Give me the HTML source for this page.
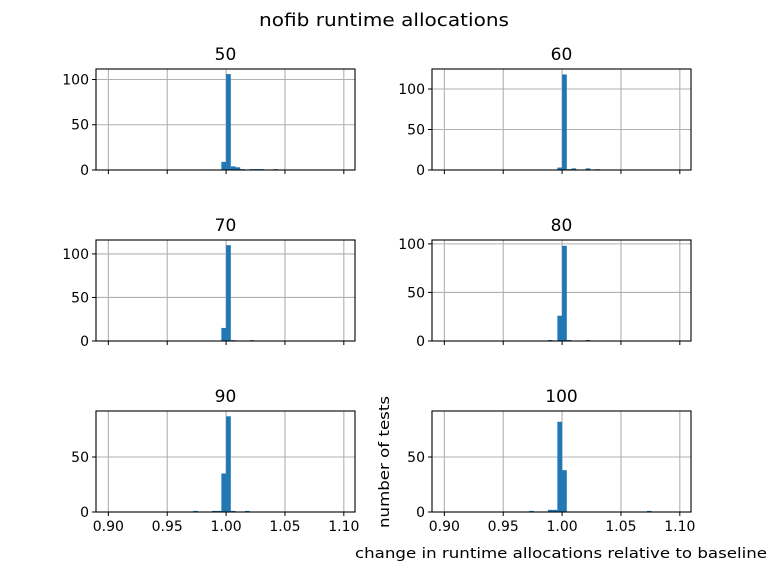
<!DOCTYPE html>
<html><head><meta charset="utf-8"><style>
body{margin:0;background:#fff;}
svg{display:block;font-family:"DejaVu Sans","Liberation Sans",sans-serif;}
</style></head><body>
<svg id="fig" width="768" height="576" xmlns="http://www.w3.org/2000/svg">
<text x="259" y="26" font-size="17.5" textLength="250" lengthAdjust="spacingAndGlyphs">nofib runtime allocations</text>
<text x="355" y="558" font-size="14.5" textLength="412" lengthAdjust="spacingAndGlyphs">change in runtime allocations relative to baseline</text>
<text transform="translate(389,528) rotate(-90)" font-size="14.5" textLength="132" lengthAdjust="spacingAndGlyphs">number of tests</text>
</svg>
<script>
const panelTitles = ["50","60","70","80","90","100"];
const binWidth = 0.004;
const bins50 = [0.996,1.0,1.004,1.008,1.012,1.020,1.024,1.028,1.040];
const vals50 = [9,106,4,3,1,1,1,1,1];
const bins60 = [0.996,1.0,1.004,1.008,1.020,1.028];
const vals60 = [3,118,1,2,2,1];
const bins70 = [0.996,1.0,1.004,1.020];
const vals70 = [15,110,1,1];
const bins80 = [0.988,0.996,1.0,1.004,1.020];
const vals80 = [1,26,98,1,1];
const bins90 = [0.972,0.988,0.992,0.996,1.0,1.004,1.016];
const vals90 = [1,1,1,35,87,1,1];
const bins100 = [0.972,0.988,0.992,0.996,1.0,1.072];
const vals100 = [1,2,2,82,38,1];
const yMaxes = [111.6,124.7,116,104,91.8,91.8];
const yTicks = [[0,50,100],[0,50,100],[0,50,100],[0,50,100],[0,50],[0,50]];
const xTicks = [0.90,0.95,1.00,1.05,1.10];
const xTickLabels = ["0.90","0.95","1.00","1.05","1.10"];
const xMin = 0.8895, xMax = 1.1095;

const allBins=[bins50,bins60,bins70,bins80,bins90,bins100];
const allVals=[vals50,vals60,vals70,vals80,vals90,vals100];
const svg=document.getElementById('fig');
const NS="http://www.w3.org/2000/svg";
function mk(tag,attrs,parent){const e=document.createElementNS(NS,tag);for(const k in attrs)e.setAttribute(k,attrs[k]);(parent||svg).appendChild(e);return e;}
const cols=[96,432], W=259, rows=[69,240,411], H=101;
for(let i=0;i<6;i++){
  const L=cols[i%2], T=rows[Math.floor(i/2)], B=T+H, R=L+W;
  const g=mk('g',{});
  
  
  const xs=v=>L+(v-xMin)/(xMax-xMin)*W;
  const ys=v=>B-v/yMaxes[i]*H;
  xTicks.forEach((t,j)=>{
    const ln=mk('line',{x1:xs(t),x2:xs(t),y1:T,y2:B,stroke:'#b0b0b0','stroke-width':1.1},g);
    
    
    const tk=mk('line',{x1:xs(t),x2:xs(t),y1:B,y2:B+4,stroke:'#000','stroke-width':1},g);
    
    
    if(i>=4){
      const tx=mk('text',{x:xs(t),y:B+19,'text-anchor':'middle','font-size':14},g);
      tx.textContent=xTickLabels[j];
      
      
    }
  });
  yTicks[i].forEach(t=>{
    const ln=mk('line',{x1:L,x2:R,y1:ys(t),y2:ys(t),stroke:'#b0b0b0','stroke-width':1.1},g);
    
    
    const tk=mk('line',{x1:L-4,x2:L,y1:ys(t),y2:ys(t),stroke:'#000','stroke-width':1},g);
    
    
    const tx=mk('text',{x:L-7,y:ys(t)+5,'text-anchor':'end','font-size':14},g);
    tx.textContent=String(t);
    
    
  });
  allBins[i].forEach((b,j)=>{
    const v=allVals[i][j];
    const r=mk('rect',{x:xs(b),y:ys(v),width:xs(b+binWidth)-xs(b),height:B-ys(v),fill:'#1f77b4'},g);
    
    
  });
  const fr=mk('rect',{x:L,y:T,width:W,height:H,fill:'none',stroke:'#000','stroke-width':1.1},g);
  
  
  const tt=mk('text',{x:L+W/2,y:T-9,'text-anchor':'middle','font-size':17},g);
  tt.textContent=panelTitles[i];
  
  
}
</script>
</body></html>
